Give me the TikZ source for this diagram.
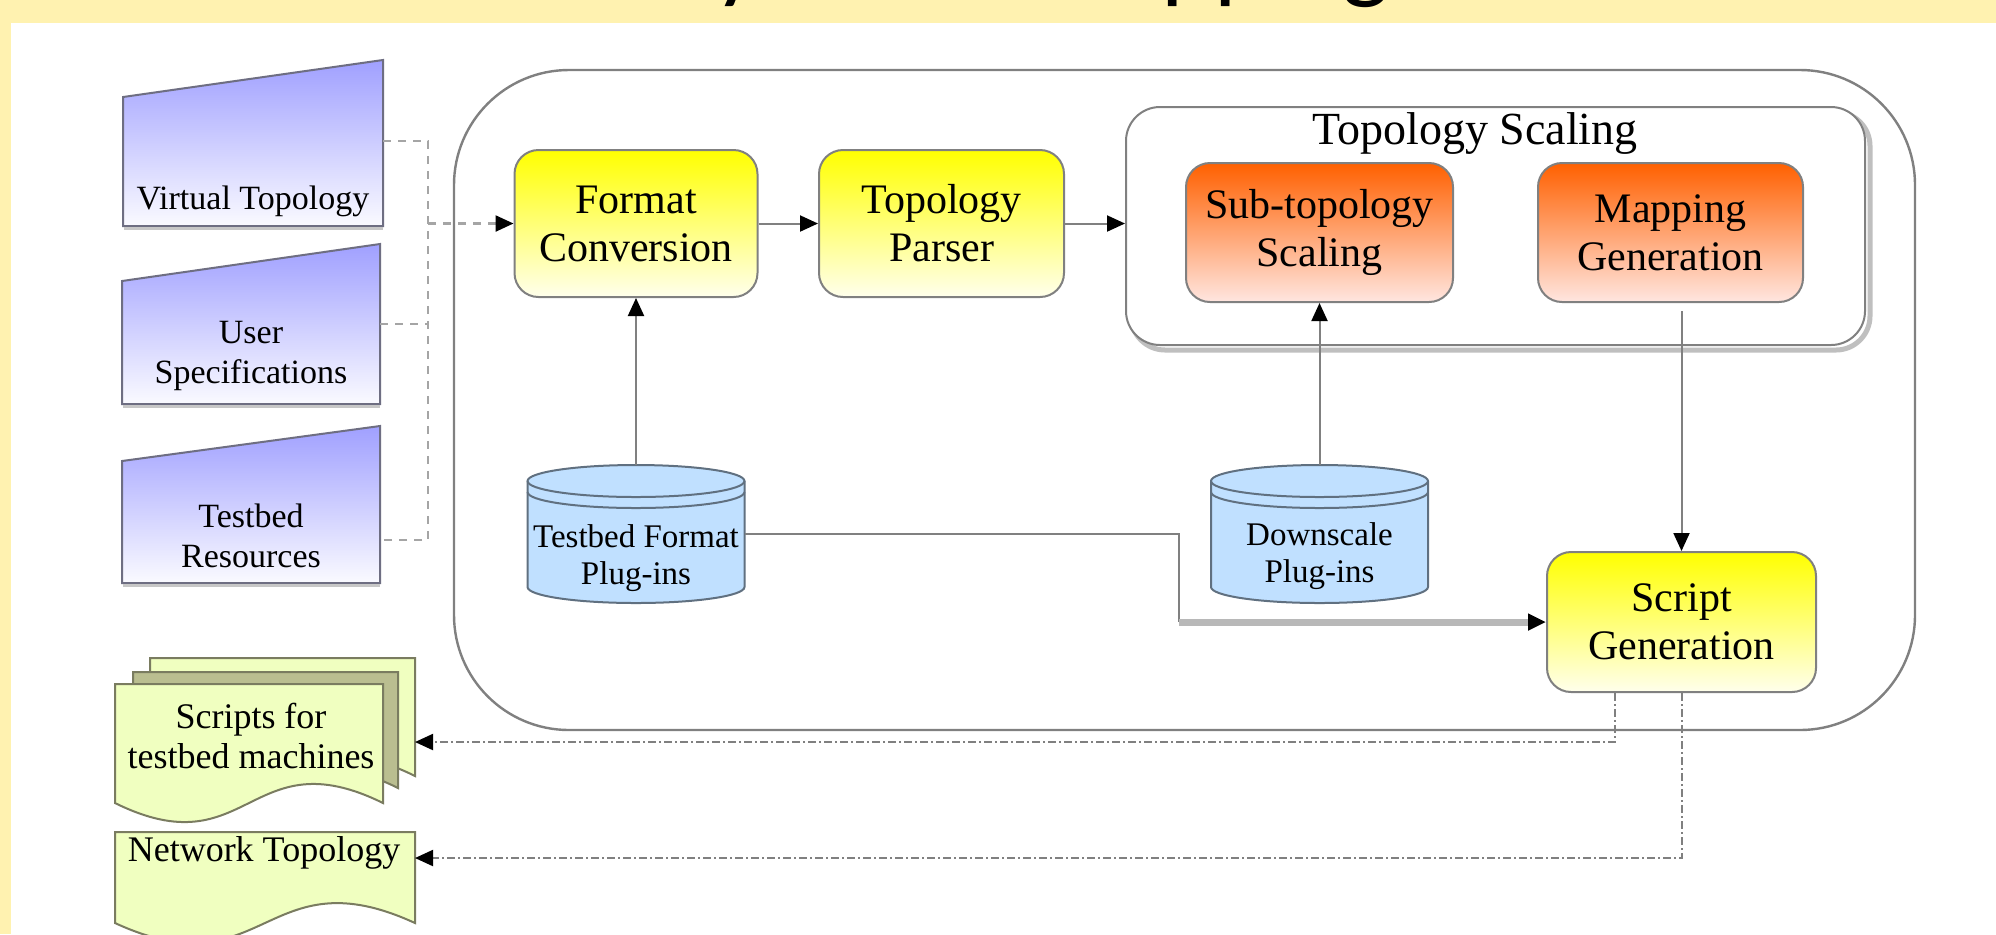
\documentclass[tikz,border=0pt]{standalone}
\usepackage{fontspec}
\setmainfont{Liberation Serif}
\newfontfamily\headfont{Carlito}
\usetikzlibrary{arrows.meta}

\definecolor{band}{RGB}{255,242,176}
\definecolor{edge}{RGB}{128,128,128}
\definecolor{yTop}{RGB}{255,255,0}
\definecolor{yBot}{RGB}{255,255,236}
\definecolor{oTop}{RGB}{255,96,0}
\definecolor{oBot}{RGB}{255,230,224}
\definecolor{tTop}{RGB}{160,160,255}
\definecolor{tBot}{RGB}{250,250,255}
\definecolor{tEdge}{RGB}{110,110,130}
\definecolor{dbFill}{RGB}{192,224,255}
\definecolor{dbEdge}{RGB}{96,112,128}
\definecolor{docFill}{RGB}{240,255,192}
\definecolor{docDark}{RGB}{186,190,144}
\definecolor{docEdge}{RGB}{122,124,96}
\definecolor{dotc}{RGB}{165,165,165}

% cylinder outline around a named (invisible) node of width 108.5pt
\newcommand\drawcyl[1]{%
  \path[fill=dbFill, draw=dbEdge, line width=1pt]
    ([yshift=-8pt]#1.north west) -- ([yshift=8pt]#1.south west)
    arc[start angle=180, end angle=360, x radius=54.25pt, y radius=8pt]
    -- ([yshift=-8pt]#1.north east)
    arc[start angle=0, end angle=180, x radius=54.25pt, y radius=8pt] -- cycle;
  \draw[dbEdge, line width=1pt] ([yshift=-8pt]#1.north west)
    arc[start angle=180, end angle=360, x radius=54.25pt, y radius=8pt];
  \draw[dbEdge, line width=1pt] ([yshift=-13.5pt]#1.north west)
    arc[start angle=180, end angle=360, x radius=54.25pt, y radius=8pt];
}

\begin{document}
\begin{tikzpicture}[x=0.5pt, y=-0.5pt,
  txt/.style={font=\fontsize{21}{24}\selectfont, align=center, inner sep=0pt},
  small/.style={font=\fontsize{17}{20}\selectfont, align=center, inner sep=0pt},
  dbtxt/.style={font=\fontsize{16.5}{18.5}\selectfont, align=center, inner sep=0pt},
  doctxt/.style={font=\fontsize{18}{20}\selectfont, align=center, inner sep=0pt},
  ybox/.style={txt, draw=edge, line width=1pt, rounded corners=12pt,
    top color=yTop, bottom color=yBot},
  obox/.style={txt, draw=edge, line width=1pt, rounded corners=12pt,
    top color=oTop, bottom color=oBot},
  dbnode/.style={inner sep=0pt, outer sep=0pt, minimum width=108.5pt, minimum height=69pt},
  trap/.style={draw=tEdge, line width=1pt, top color=tTop, bottom color=tBot},
  trapshadow/.style={draw=black!22, line width=1.5pt},
  doc/.style={fill=docFill, draw=docEdge, line width=1pt},
  docback/.style={fill=docDark, draw=docEdge, line width=1pt},
  tip/.style={-{Triangle[length=9pt, width=8pt, color=black]}},
  conn/.style={draw=edge, line width=1pt, tip},
  dotline/.style={draw=dotc, line width=1.2pt, dash pattern=on 4pt off 3.5pt},
  dashdot/.style={draw=edge, line width=1pt, dash pattern=on 4pt off 1.5pt on 1pt off 1.5pt}
]
\useasboundingbox (0,0) rectangle (1996,934);
\clip (0,0) rectangle (1996,934);

% slide frame
\fill[white] (0,0) rectangle (1996,934);
\fill[band] (0,0) rectangle (1996,23);
\fill[band] (0,0) rectangle (11,934);
\node[anchor=base west, inner sep=0pt, font=\headfont\fontsize{50}{60}\selectfont]
  (title) at (653,-10) {Dynamic Mapping};

% system boundary
\node[draw=edge, line width=1.2pt, rounded corners=57.5pt, minimum width=730.5pt,
  minimum height=330pt, inner sep=0pt] (sys) at (1184.5,400) {};

% topology scaling group
\draw[draw=black!25, line width=2.5pt, rounded corners=17pt] (1131,112) rectangle (1870,350);
\node[draw=edge, line width=1pt, fill=white, rounded corners=17pt, minimum width=369.5pt,
  minimum height=119pt, inner sep=0pt] (ts) at (1495.5,226) {};
\node[txt, font=\fontsize{23}{26}\selectfont] (tst) at (1475,133) {Topology Scaling};

% processing steps
\node[ybox, minimum width=121.5pt, minimum height=73.5pt] (fc) at (636,223.5) {Format\\Conversion};
\node[ybox, minimum width=122.5pt, minimum height=73.5pt] (tp) at (941.5,223.5) {Topology\\Parser};
\node[obox, minimum width=133.5pt, minimum height=69.5pt] (sts) at (1319.5,232.5) {Sub-topology\\Scaling};
\node[obox, minimum width=132.5pt, minimum height=69.5pt] (mg) at (1670.5,232.5) {Mapping\\Generation};
\node[ybox, minimum width=134.5pt, minimum height=70pt] (sg) at (1681.5,622) {Script\\Generation};

% plug-in stores
\node[dbnode] (tfp) at (636,534) {};
\node[dbnode] (dsp) at (1319.5,534) {};
\drawcyl{tfp}
\drawcyl{dsp}
\node[dbtxt] (tfpt) at (636,558.5) {Testbed Format\\Plug-ins};
\node[dbtxt] (dspt) at (1319.5,556) {Downscale\\Plug-ins};

% manual inputs
\path[trap] (123,97) -- (383,60) -- (383,226) -- (123,226) -- cycle;
\draw[trapshadow] (124,228) -- (383,228);
\node[small] (vt) at (253,201) {Virtual Topology};
\path[trap] (122,281) -- (380,244) -- (380,404) -- (122,404) -- cycle;
\draw[trapshadow] (123,406) -- (380,406);
\node[small] (us) at (251,356) {User\\Specifications};
\path[trap] (122,461) -- (380,426) -- (380,583) -- (122,583) -- cycle;
\draw[trapshadow] (123,585) -- (380,585);
\node[small] (tr) at (251,536) {Testbed\\Resources};

% generated documents
\path[doc] (150,658) -- (415,658) -- (415,776) .. controls (282.5,710) and (282.5,842) .. (150,776) -- cycle;
\path[docback] (133,672) -- (398,672) -- (398,788) .. controls (265.5,722) and (265.5,854) .. (133,788) -- cycle;
\path[doc] (115,684) -- (383,684) -- (383,803) .. controls (249,737) and (249,869) .. (115,803) -- cycle;
\node[doctxt] (scr) at (251,736) {Scripts for\\testbed machines};
\path[doc] (115,832) -- (415,832) -- (415,923) .. controls (265,854) and (265,992) .. (115,923) -- cycle;
\node[doctxt] (net) at (264,853) {Network Topology};

% connection points
\coordinate (vtOut) at (383,141);
\coordinate (usOut) at (380,324);
\coordinate (trOut) at (380,540);
\coordinate (bus) at (428,223.5);
\coordinate (mgOut) at (1681.5,311);
\coordinate (bend) at (1179,622);
\coordinate (scrIn) at (415,742);
\coordinate (netIn) at (415,858);

% inputs into the system
\draw[dotline] (vtOut) -- (vtOut -| bus) -- (trOut -| bus) -- (trOut);
\draw[dotline] (usOut) -- (usOut -| bus);
\draw[dotline, tip] (bus) -- (fc.west);

% internal flow
\draw[conn] (fc.east) -- (tp.west);
\draw[conn] (tp.east) -- (tp.east -| ts.west);
\draw[conn] (tfp.north) -- (fc.south);
\draw[conn] (dsp.north) -- (sts.south);
\draw[conn] (mgOut) -- (sg.north);
\draw[draw=edge, line width=1pt] (tfp.east) -| (bend);
\draw[draw=black!28, line width=3.5pt, tip] (bend) -- (sg.west);

% outputs
\draw[dashdot, tip] ([xshift=-33.25pt]sg.south) |- (scrIn);
\draw[dashdot, tip] (sg.south) |- (netIn);
\end{tikzpicture}
\end{document}
